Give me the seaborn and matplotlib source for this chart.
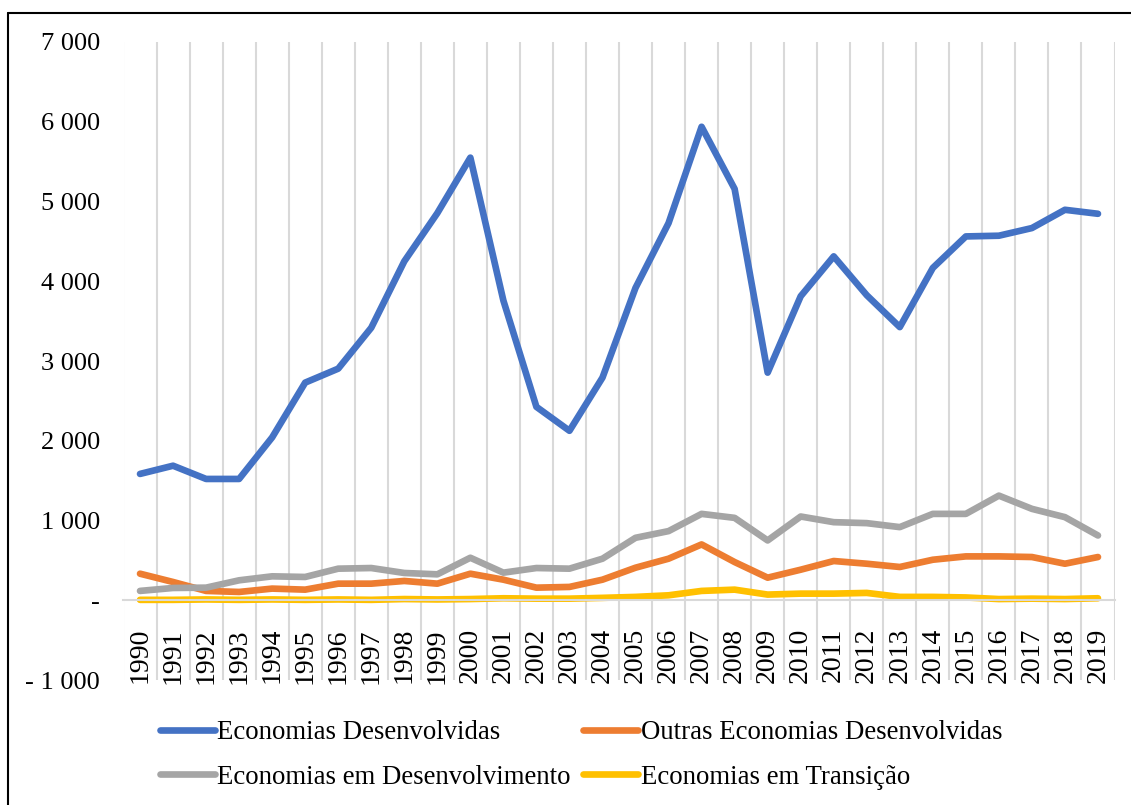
import numpy as np
import pandas as pd
import matplotlib
matplotlib.use("Agg")
import matplotlib.pyplot as plt
from matplotlib.lines import Line2D
import seaborn as sns

years = [str(y) for y in range(1990, 2020)]
series_names = ["Economias Desenvolvidas", "Outras Economias Desenvolvidas",
                "Economias em Desenvolvimento", "Economias em Transição"]
desenvolvidas = [1584, 1687, 1521, 1521, 2042, 2729, 2904, 3417, 4250, 4854,
                 5550, 3758, 2425, 2125, 2792, 3917, 4729, 5937, 5158, 2854,
                 3812, 4312, 3825, 3425, 4167, 4562, 4571, 4667, 4896, 4846]
outras = [333, 229, 117, 104, 146, 133, 208, 208, 242, 208,
          333, 258, 158, 167, 258, 408, 521, 700, 479, 283,
          383, 492, 458, 417, 508, 550, 550, 542, 458, 542]
em_desenv = [117, 154, 158, 250, 300, 292, 396, 404, 342, 325,
             533, 346, 404, 396, 521, 783, 867, 1083, 1033, 750,
             1050, 979, 967, 917, 1083, 1083, 1312, 1146, 1042, 812]
transicao = [5, 5, 10, 5, 10, 5, 10, 5, 15, 10,
             15, 25, 20, 20, 30, 42, 62, 117, 133, 71,
             83, 83, 92, 42, 42, 35, 15, 20, 15, 25]
colors = ["#4472C4", "#ED7D31", "#A5A5A5", "#FFC000"]
y_ticks = [-1000, 0, 1000, 2000, 3000, 4000, 5000, 6000, 7000]
y_tick_labels = ["- 1 000", "-", "1 000", "2 000", "3 000", "4 000",
                 "5 000", "6 000", "7 000"]

sns.set_theme(style="white")
plt.rcParams["font.family"] = ["Liberation Serif", "DejaVu Serif"]
plt.rcParams["text.color"] = "black"

values = [desenvolvidas, outras, em_desenv, transicao]
frames = []
for name, vals in zip(series_names, values):
    frames.append(pd.DataFrame({"pos": np.arange(len(years)), "ano": years,
                                "valor": vals, "serie": name}))
df = pd.concat(frames, ignore_index=True)

W, H = 1131, 805
fig = plt.figure(figsize=(W / 100, H / 100), dpi=100)
ax = fig.add_axes([123.5 / W, 1 - 680 / H, (1114.5 - 123.5) / W, (680 - 42) / H])

sns.lineplot(data=df, x="pos", y="valor", hue="serie", hue_order=series_names,
             palette=dict(zip(series_names, colors)), linewidth=4.8, ax=ax,
             legend=False, solid_capstyle="round", solid_joinstyle="round")

ax.set_xlim(-0.5, len(years) - 0.5)
ax.set_ylim(-1000, 7000)
ax.set_xticks(np.arange(len(years)))
ax.set_xticklabels(years)
ax.set_xticks(np.arange(len(years) + 1) - 0.5, minor=True)
ax.set_yticks(y_ticks)
ax.set_yticklabels(y_tick_labels)
ax.set_xlabel("")
ax.set_ylabel("")

ax.grid(False)
ax.grid(True, which="minor", axis="x", color="#D9D9D9", linewidth=1.5)
ax.set_axisbelow(True)

for s in ["top", "right", "left"]:
    ax.spines[s].set_visible(False)
ax.spines["bottom"].set_position(("data", 0))
ax.spines["bottom"].set_color("#D9D9D9")
ax.spines["bottom"].set_linewidth(1.5)
ax.tick_params(axis="x", which="both", length=0, pad=20, labelcolor="black",
               labelsize=20, labelrotation=90)
ax.tick_params(axis="y", length=0, pad=17, labelcolor="black", labelsize=19)

# legend laid out row-wise: (Desenvolvidas, Outras) / (Em Desenv., Transição)
order = [0, 2, 1, 3]
new_handles = [Line2D([0], [0], color=colors[i], linewidth=4.8,
                      solid_capstyle="round") for i in order]
new_labels = [series_names[i] for i in order]
leg = fig.legend(new_handles, new_labels, loc="center", ncol=2,
                 bbox_to_anchor=(581 / W, 1 - 755 / H), frameon=False,
                 fontsize=19.3, handlelength=2.05, handletextpad=0.1,
                 columnspacing=0.45, labelspacing=0.72, borderpad=0)
for t in leg.get_texts():
    t.set_color("black")

fig.add_artist(Line2D([8 / W, 1.0], [1 - 13 / H, 1 - 13 / H], color="black",
                      linewidth=1.5, transform=fig.transFigure))
fig.add_artist(Line2D([8 / W, 8 / W], [0.0, 1 - 13 / H], color="black",
                      linewidth=1.5, transform=fig.transFigure))

fig.savefig("out.png", dpi=100)
